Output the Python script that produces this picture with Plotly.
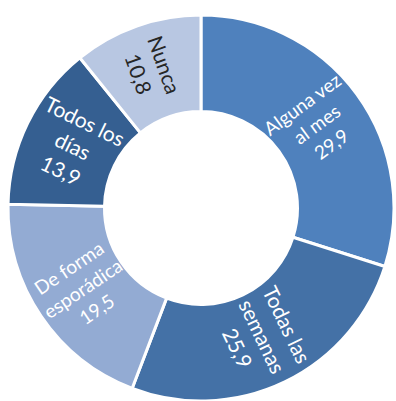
import plotly.graph_objects as go

labels = ["Alguna vez al mes", "Todas las semanas", "De forma esporádica", "Todos los días", "Nunca"]
label_lines = ["Alguna vez<br>al mes", "Todas las<br>semanas", "De forma<br>esporádica", "Todos los<br>días", "Nunca"]
values = [29.9, 25.9, 19.5, 13.9, 10.8]
colors = ["#4F81BD", "#4471A6", "#93ABD3", "#355F91", "#B8C7E2"]
text_colors = ["white", "white", "white", "white", "#262626"]

fig = go.Figure(go.Pie(
    labels=labels,
    values=values,
    text=label_lines,
    texttemplate="%{text}<br>%{value:.1f}",
    textposition="inside",
    insidetextorientation="radial",
    sort=False,
    direction="clockwise",
    rotation=0,
    hole=0.5,
    marker=dict(colors=colors, line=dict(color="white", width=3)),
    textfont=dict(family="Lato", size=21, color=text_colors),
    hoverinfo="label+value",
    domain=dict(x=[0.0202, 0.9949], y=[0.0, 0.9626]),
))

fig.update_layout(
    width=396, height=401,
    margin=dict(l=0, r=0, t=0, b=0),
    showlegend=False,
    separators=",.",
    paper_bgcolor="white",
    plot_bgcolor="white",
)

fig.write_html("out.html")
